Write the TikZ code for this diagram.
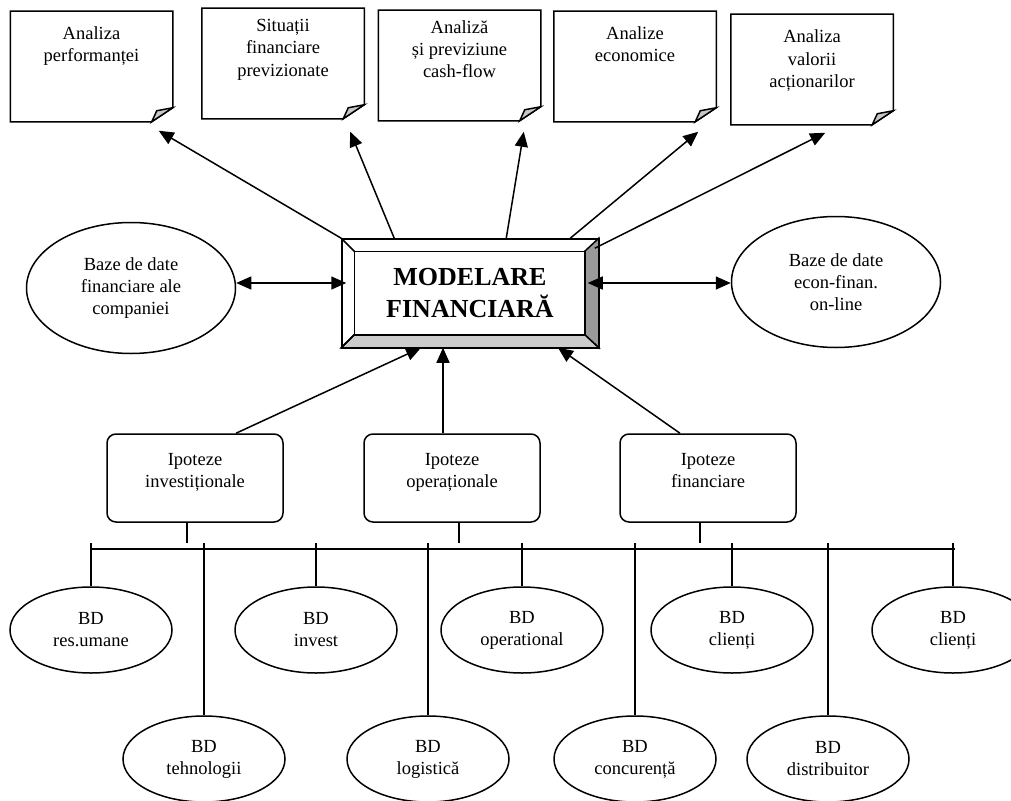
\documentclass[tikz,border=0pt]{standalone}
\usepackage{fontspec}
\setmainfont{Liberation Serif}
\usetikzlibrary{arrows.meta,shapes}

\begin{document}
\begin{tikzpicture}[x=1pt, y=-1pt, line width=1.5pt,
  foaie/.style={rectangle, inner sep=0pt, minimum width=161pt, text height=28pt, text depth=81pt},
  foaie3/.style={foaie, text height=23pt, text depth=86pt},
  ipoteza/.style={draw, rounded corners=9pt, inner sep=0pt, minimum width=176pt, text height=31pt, text depth=57pt},
  baza/.style={draw, ellipse, inner sep=0pt, minimum width=209pt, minimum height=131pt, align=center},
  bd/.style={draw, ellipse, inner sep=0pt, minimum width=162pt, minimum height=86pt, align=center},
  sageata/.style={-{Triangle[length=15pt,width=13pt]}},
  dubla/.style={{Triangle[length=15pt,width=13pt]}-{Triangle[length=15pt,width=13pt]}}]

  \fontsize{18.5}{22}\selectfont

  \newcommand\sus[1]{\begin{tabular}[t]{@{}c@{}}#1\end{tabular}}
  \newcommand\colt[1]{%
    \draw (#1.north west) -- (#1.north east) -- ([yshift=14pt]#1.south east) -- ([xshift=-21pt]#1.south east) -- (#1.south west) -- cycle;
    \draw[fill=black!22] ([xshift=-21pt]#1.south east) -- ([xshift=-16pt,yshift=11pt]#1.south east) -- ([yshift=14pt]#1.south east) -- cycle;}

  \useasboundingbox (0,0) rectangle (1011,800);

  %% rapoarte
  \node[foaie] (n1) at (91.5,66.5) {\sus{Analiza\\performanței}};
  \node[foaie3] (n2) at (283,63.5) {\sus{Situații\\financiare\\previzionate}};
  \node[foaie3] (n3) at (459.5,65.5) {\sus{Analiză\\și previziune\\cash-flow}};
  \node[foaie] (n4) at (635,66.5) {\sus{Analize\\economice}};
  \node[foaie] (n5) at (812,69.5) {\sus{Analiza\\valorii\\acționarilor}};
  \colt{n1} \colt{n2} \colt{n3} \colt{n4} \colt{n5}

  %% modelare
  \node[draw, rectangle, inner sep=0pt, minimum width=256pt, minimum height=108pt, align=center,
    font=\bfseries\fontsize{26}{32}\selectfont] (mf) at (470,293) {MODELARE\\FINANCIARĂ};
  \coordinate (i1) at ([xshift=13pt,yshift=-13pt]mf.north west);
  \coordinate (i2) at ([xshift=-14pt,yshift=-13pt]mf.north east);
  \coordinate (i3) at ([xshift=-14pt,yshift=13pt]mf.south east);
  \coordinate (i4) at ([xshift=13pt,yshift=13pt]mf.south west);
  \draw[fill=black!40] (mf.north east) -- (mf.south east) -- (i3) -- (i2) -- cycle;
  \draw[fill=black!20] (mf.south west) -- (mf.south east) -- (i3) -- (i4) -- cycle;
  \draw (mf.north west) -- (i1) (mf.south west) -- (i4);
  \draw (mf.north west) rectangle (mf.south east);
  \draw (i1) rectangle (i3);

  %% baze de date
  \node[baza] (bz1) at (131,288) {Baze de date\\financiare ale\\companiei};
  \node[baza] (bz2) at (836,282) {Baze de date\\econ-finan.\\on-line};

  \draw[dubla] ([yshift=5pt]bz1.east) -- ([xshift=5pt,yshift=10pt]mf.west); % bz1<->mf
  \draw[dubla] ([xshift=-11pt,yshift=10pt]mf.east) -- ([yshift=-1pt]bz2.west); % mf<->bz2

  \draw[sageata] (mf.north west) -- ([xshift=-14pt,yshift=-9pt]n1.south east);
  \draw[sageata] ([xshift=53pt]mf.north west) -- ([xshift=-14pt,yshift=-13pt]n2.south east);
  \draw[sageata] ([xshift=165pt]mf.north west) -- ([xshift=-17pt,yshift=-11pt]n3.south east);
  \draw[sageata] ([xshift=229pt]mf.north west) -- ([xshift=-18pt,yshift=-10pt]n4.south east);
  \draw[sageata] ([xshift=-4pt,yshift=-10pt]mf.north east) -- ([xshift=-68pt,yshift=-8pt]n5.south east);

  %% ipoteze
  \node[ipoteza] (ip1) at (195,478) {\sus{Ipoteze\\investiționale}};
  \node[ipoteza] (ip2) at (452,478) {\sus{Ipoteze\\operaționale}};
  \node[ipoteza] (ip3) at (708,478) {\sus{Ipoteze\\financiare}};

  \draw[sageata] ([xshift=41pt]ip1.north) -- ([xshift=-49pt]mf.south);
  \draw[sageata] ([xshift=-9pt]ip2.north) -- ([xshift=-27pt]mf.south);
  \draw[sageata] ([xshift=-28pt]ip3.north) -- ([xshift=88pt]mf.south);

  %% magistrala
  \coordinate (busA) at (92,549);
  \coordinate (busB) at (955,549);
  \coordinate (nivel) at (0,543);
  \draw[line width=2.2pt] (busA) -- (busB);

  \coordinate (s1) at ([xshift=-8pt]ip1.south);
  \coordinate (s2) at ([xshift=7pt]ip2.south);
  \coordinate (s3) at ([xshift=-8pt]ip3.south);
  \draw (s1) -- (s1 |- nivel);
  \draw (s2) -- (s2 |- nivel);
  \draw (s3) -- (s3 |- nivel);

  %% BD
  \node[bd] (r1) at (91,630) {BD\\res.umane};
  \node[bd] (r2) at (316,630) {BD\\invest};
  \node[bd] (r3) at (522,630) {BD\\operational};
  \node[bd] (r4) at (732,630) {BD\\clienți};
  \node[bd] (r5) at (953,630) {BD\\clienți};
  \node[bd] (t1) at (204,759) {BD\\tehnologii};
  \node[bd] (t2) at (428,759) {BD\\logistică};
  \node[bd] (t3) at (635,759) {BD\\concurență};
  \node[bd] (t4) at (828,759) {BD\\distribuitor};

  \draw (r1.north) -- (r1.north |- nivel);
  \draw (t1.north) -- (t1.north |- nivel);
  \draw (r2.north) -- (r2.north |- nivel);
  \draw (t2.north) -- (t2.north |- nivel);
  \draw (r3.north) -- (r3.north |- nivel);
  \draw (t3.north) -- (t3.north |- nivel);
  \draw (r4.north) -- (r4.north |- nivel);
  \draw (t4.north) -- (t4.north |- nivel);
  \draw (r5.north) -- (r5.north |- nivel);

\end{tikzpicture}
\end{document}
